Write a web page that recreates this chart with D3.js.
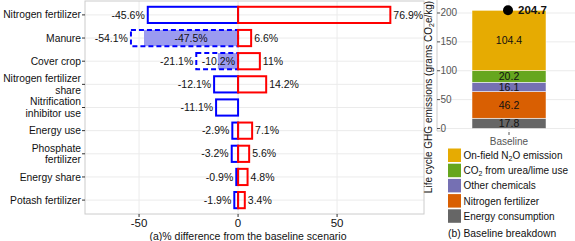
<!DOCTYPE html>
<html>
<head>
<meta charset="utf-8">
<script src="https://cdn.jsdelivr.net/npm/d3@7"></script>
<style>
  body { margin: 0; background: #fff; }
  text { font-family: "Liberation Sans", Arial, sans-serif; }
</style>
</head>
<body>
<svg id="chart" width="575" height="241"></svg>
<script>
// (a) sensitivity of emissions to each factor
const categories = [
    ['Nitrogen fertilizer'],
    ['Manure'],
    ['Cover crop'],
    ['Nitrogen fertilizer', 'share'],
    ['Nitrification', 'inhibitor use'],
    ['Energy use'],
    ['Phosphate', 'fertilizer'],
    ['Energy share'],
    ['Potash fertilizer']
];
const decreaseValues = [-45.6, -54.1, -21.1, -12.1, -11.1, -2.9, -3.2, -0.9, -1.9];
const increaseValues = [76.9, 6.6, 11, 14.2, null, 7.1, 5.6, 4.8, 3.4];
const filledValues = [null, -47.5, -10.2, null, null, null, null, null, null];
const xTicks = [-50, 0, 50];

// (b) baseline breakdown, bottom to top
const components = ['Energy consumption', 'Nitrogen fertilizer', 'Other chemicals', 'CO2 from urea/lime use', 'On-field N2O emission'];
const componentValues = [17.8, 46.2, 16.1, 20.2, 104.4];
const componentColors = ['#666666', '#D95F02', '#7570B3', '#66A61E', '#E6AB02'];
const baselineTotal = 204.7;
const yTicks = [0, 50, 100, 150, 200];

const svg = d3.select('#chart');
svg.append('rect').attr('width', 575).attr('height', 241).attr('fill', '#fff');

function drawSensitivity() {
    const left = 85, right = 424, top = 1, bottom = 214;
    const x = d3.scaleLinear().domain([-77.3, 93.9]).range([left, right]);
    const y = d3.scalePoint().domain(d3.range(categories.length)).range([top, bottom]).padding(0.6);
    const barH = y.step() * 0.7;
    const g = svg.append('g');

    // grid
    g.selectAll('.hgrid').data(d3.range(categories.length)).enter()
        .append('line')
        .attr('x1', left).attr('x2', right)
        .attr('y1', d => y(d)).attr('y2', d => y(d))
        .style('stroke', '#ebebeb').style('stroke-width', 1);
    g.selectAll('.vgrid').data(xTicks).enter()
        .append('line')
        .attr('x1', d => x(d)).attr('x2', d => x(d))
        .attr('y1', top).attr('y2', bottom)
        .style('stroke', '#ebebeb').style('stroke-width', 1);

    // filled (lavender) part
    const rows = d3.range(categories.length);
    g.selectAll('.fill').data(rows.filter(i => filledValues[i] !== null)).enter()
        .append('rect')
        .attr('x', i => x(filledValues[i]))
        .attr('y', i => y(i) - barH / 2)
        .attr('width', i => x(0) - x(filledValues[i]))
        .attr('height', barH)
        .style('fill', '#9b9bf0');

    // decrease boxes (blue)
    g.selectAll('.dec').data(rows).enter()
        .append('rect')
        .attr('x', i => x(decreaseValues[i]))
        .attr('y', i => y(i) - barH / 2)
        .attr('width', i => x(0) - x(decreaseValues[i]))
        .attr('height', barH)
        .style('fill', 'none')
        .style('stroke', '#0000ff')
        .style('stroke-width', 2)
        .style('stroke-dasharray', i => filledValues[i] !== null ? '5,3' : null);

    // increase boxes (red)
    g.selectAll('.inc').data(rows.filter(i => increaseValues[i] !== null)).enter()
        .append('rect')
        .attr('x', x(0))
        .attr('y', i => y(i) - barH / 2)
        .attr('width', i => x(increaseValues[i]) - x(0))
        .attr('height', barH)
        .style('fill', 'none')
        .style('stroke', '#ff0000')
        .style('stroke-width', 2);

    // value labels
    g.selectAll('.declab').data(rows).enter()
        .append('text')
        .attr('x', i => x(decreaseValues[i]) - 3)
        .attr('y', i => y(i))
        .attr('dy', '0.35em')
        .attr('text-anchor', 'end')
        .style('font-size', '10.5px').style('fill', '#111')
        .text(i => decreaseValues[i] + '%');
    g.selectAll('.inclab').data(rows.filter(i => increaseValues[i] !== null)).enter()
        .append('text')
        .attr('x', i => x(increaseValues[i]) + 3)
        .attr('y', i => y(i))
        .attr('dy', '0.35em')
        .style('font-size', '10.5px').style('fill', '#111')
        .text(i => increaseValues[i] + '%');
    g.selectAll('.filllab').data(rows.filter(i => filledValues[i] !== null)).enter()
        .append('text')
        .attr('y', i => y(i))
        .attr('dy', '0.35em')
        .style('font-size', '10.5px').style('fill', '#111')
        .text(i => filledValues[i] + '%')
        .each(function(i) {
            // centre in the bar, or tuck against zero when it does not fit
            const w = this.getComputedTextLength();
            const barW = x(0) - x(filledValues[i]);
            const t = d3.select(this);
            if (w + 6 < barW) t.attr('x', (x(0) + x(filledValues[i])) / 2).attr('text-anchor', 'middle');
            else t.attr('x', x(0) - 3).attr('text-anchor', 'end');
        });

    // panel border
    g.append('rect')
        .attr('x', left).attr('y', top)
        .attr('width', right - left).attr('height', bottom - top)
        .style('fill', 'none').style('stroke', '#cccccc').style('stroke-width', 1);

    // y axis labels
    const yl = g.selectAll('.ylab').data(rows).enter().append('g');
    yl.append('line')
        .attr('x1', left - 3).attr('x2', left)
        .attr('y1', i => y(i)).attr('y2', i => y(i))
        .style('stroke', '#333');
    yl.append('text')
        .attr('x', left - 4)
        .attr('text-anchor', 'end')
        .style('font-size', '10.3px').style('fill', '#111')
        .each(function(i) {
            const lines = categories[i];
            const t = d3.select(this);
            lines.forEach((s, k) => {
                t.append('tspan')
                    .attr('x', left - 4)
                    .attr('y', y(i) + (k - (lines.length - 1) / 2) * 11.5)
                    .attr('dy', '0.35em')
                    .text(s);
            });
        });

    // x axis
    g.selectAll('.xt').data(xTicks).enter()
        .append('line')
        .attr('x1', d => x(d)).attr('x2', d => x(d))
        .attr('y1', bottom).attr('y2', bottom + 3)
        .style('stroke', '#333');
    g.selectAll('.xtl').data(xTicks).enter()
        .append('text')
        .attr('x', d => x(d)).attr('y', 227)
        .attr('text-anchor', 'middle')
        .style('font-size', '11.5px').style('fill', '#111')
        .text(d => d);
    g.append('text')
        .attr('x', 248).attr('y', 240)
        .attr('text-anchor', 'middle')
        .style('font-size', '10.5px').style('fill', '#111')
        .text('(a)% difference from the baseline scenario');
}

function subText(sel, parts) {
    // parts: array of [text, isSubscript]; shift down for subscripts, back up after
    let shifted = false;
    parts.forEach(([s, sub]) => {
        const t = sel.append('tspan').text(s);
        if (sub) {
            t.attr('dy', '2').style('font-size', '7px');
            shifted = true;
        } else if (shifted) {
            t.attr('dy', '-2');
            shifted = false;
        }
    });
}

function labelParts(name) {
    if (name === 'CO2 from urea/lime use') return [['CO', false], ['2', true], [' from urea/lime use', false]];
    if (name === 'On-field N2O emission') return [['On-field N', false], ['2', true], ['O emission', false]];
    return [[name, false]];
}

function drawBreakdown() {
    const left = 437, right = 575, top = 0, bottom = 131;
    const y = d3.scaleLinear().domain([0, 222.5]).range([128.5, 0]);
    const g = svg.append('g');

    g.selectAll('.hgrid').data(yTicks).enter()
        .append('line')
        .attr('x1', left).attr('x2', right)
        .attr('y1', d => y(d)).attr('y2', d => y(d))
        .style('stroke', '#ebebeb').style('stroke-width', 1);
    g.append('line')
        .attr('x1', 509).attr('x2', 509)
        .attr('y1', top).attr('y2', bottom)
        .style('stroke', '#ebebeb');

    const stacked = d3.cumsum(componentValues);
    const bx = 472, bw = 74;
    g.selectAll('.seg').data(d3.range(components.length)).enter()
        .append('rect')
        .attr('x', bx).attr('width', bw)
        .attr('y', i => y(stacked[i]))
        .attr('height', i => y(stacked[i] - componentValues[i]) - y(stacked[i]))
        .style('fill', i => componentColors[i])
        .style('stroke', '#fff').style('stroke-width', 0.5);
    g.selectAll('.seglab').data(d3.range(components.length)).enter()
        .append('text')
        .attr('x', bx + bw / 2)
        .attr('y', i => y(stacked[i] - componentValues[i] / 2))
        .attr('dy', '0.35em')
        .attr('text-anchor', 'middle')
        .style('font-size', '10.5px').style('fill', '#111')
        .text(i => componentValues[i].toFixed(1));

    // total marker
    g.append('circle')
        .attr('cx', 508).attr('cy', y(baselineTotal))
        .attr('r', 5).style('fill', '#000');
    g.append('text')
        .attr('x', 518).attr('y', y(baselineTotal))
        .attr('dy', '0.35em')
        .style('font-size', '11.5px').style('font-weight', 'bold').style('fill', '#111')
        .text(baselineTotal.toFixed(1));

    // axis lines
    g.append('path')
        .attr('d', `M${left},${top}V${bottom}H${left + 6}`)
        .style('fill', 'none').style('stroke', '#cccccc');

    g.selectAll('.yt').data(yTicks).enter()
        .append('line')
        .attr('x1', left).attr('x2', left + 3)
        .attr('y1', d => y(d)).attr('y2', d => y(d))
        .style('stroke', '#555');
    g.selectAll('.ytl').data(yTicks).enter()
        .append('text')
        .attr('x', left + 3.5).attr('y', d => y(d))
        .attr('dy', '0.35em')
        .style('font-size', '10px').style('fill', '#555')
        .text(d => d);

    g.append('line')
        .attr('x1', 509).attr('x2', 509)
        .attr('y1', bottom + 1).attr('y2', bottom + 4)
        .style('stroke', '#555');
    g.append('text')
        .attr('x', 509).attr('y', 144.5)
        .attr('text-anchor', 'middle')
        .style('font-size', '10px').style('fill', '#555')
        .text('Baseline');

    // y title
    const yt = g.append('text')
        .attr('transform', 'translate(432,97) rotate(-90)')
        .attr('text-anchor', 'middle')
        .style('font-size', '10px').style('fill', '#111');
    subText(yt, [['Life cycle GHG emissions (grams CO', false], ['2', true], ['e/kg)', false]]);

    // legend, top to bottom
    const order = d3.range(components.length).reverse();
    const lg = g.selectAll('.leg').data(order).enter()
        .append('g')
        .attr('transform', (d, k) => `translate(448,${148.5 + k * 15.2})`);
    lg.append('rect')
        .attr('width', 13).attr('height', 13.5)
        .style('fill', i => componentColors[i]);
    lg.append('text')
        .attr('x', 15.5).attr('y', 7)
        .attr('dy', '0.35em')
        .style('font-size', '10px').style('fill', '#111')
        .each(function(i) { subText(d3.select(this), labelParts(components[i])); });

    g.append('text')
        .attr('x', 448).attr('y', 237)
        .style('font-size', '10.3px').style('fill', '#111')
        .text('(b) Baseline breakdown');
}

drawSensitivity();
drawBreakdown();
</script>
</body>
</html>
